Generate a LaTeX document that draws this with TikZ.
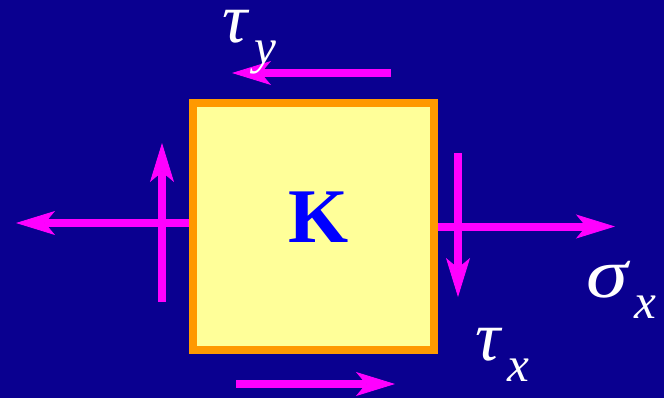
\documentclass[tikz,border=0pt]{standalone}
\usepackage{fontspec}
\setmainfont{Liberation Serif}
\usetikzlibrary{arrows.meta}

\definecolor{fondo}{RGB}{10,0,144}
\definecolor{fuerza}{RGB}{255,0,255}
\definecolor{borde}{RGB}{255,153,0}
\definecolor{relleno}{RGB}{255,255,153}
\definecolor{letra}{RGB}{0,0,255}

% Tension con subindice
\newcommand{\tension}[2]{{\fontsize{40}{40}\selectfont\itshape #1\kern0.1em\raisebox{-0.3em}{\fontsize{28}{28}\selectfont #2}}}

\begin{document}
\begin{tikzpicture}[>={Stealth[length=0.78cm, width=0.48cm, inset=0.2cm, line width=0.5pt]},
    fuerzas/.style={->, draw=fuerza, line width=0.16cm},
    etiqueta/.style={text=white, anchor=base west, inner sep=0pt}]
    % Fondo
    \fill[fondo] (0,0) rectangle (13.28,7.96);
    \useasboundingbox (0,0) rectangle (13.28,7.96);

    % Elemento K
    \node[draw=borde, fill=relleno, line width=0.16cm, minimum width=4.82cm,
          minimum height=4.94cm, inner sep=0pt] (elem) at (6.27,3.43) {};
    \node[text=letra, font=\fontsize{44}{44}\selectfont\bfseries] (K) at (6.38,3.61) {K};

    % Extremos libres de las flechas
    \coordinate (Sxm) at (0.32,3.50);   % sigma_x izquierda
    \coordinate (Sxp) at (12.30,3.43);  % sigma_x derecha
    \coordinate (Tyi) at (7.82,6.50);   % tau_y arriba (inicio)
    \coordinate (Tyf) at (4.64,6.50);   % tau_y arriba (fin)
    \coordinate (Tybi) at (4.72,0.28);  % tau_y abajo (inicio)
    \coordinate (Tybf) at (7.90,0.28);  % tau_y abajo (fin)
    \coordinate (Txi) at (3.24,1.92);   % tau_x izquierda (inicio)
    \coordinate (Txf) at (3.24,5.10);   % tau_x izquierda (fin)
    \coordinate (Txdi) at (9.16,4.90);  % tau_x derecha (inicio)
    \coordinate (Txdf) at (9.16,2.02);  % tau_x derecha (fin)

    % Flechas
    \draw[fuerzas] ([yshift=0.07cm]elem.west) -- (Sxm);
    \draw[fuerzas] (elem.east) -- (Sxp);
    \draw[fuerzas] (Tyi) -- (Tyf);
    \draw[fuerzas] (Tybi) -- (Tybf);
    \draw[fuerzas] (Txi) -- (Txf);
    \draw[fuerzas] (Txdi) -- (Txdf);

    % Etiquetas
    \node[etiqueta] (ty) at (4.44,7.12) {\tension{τ}{y}};
    \node[etiqueta] (sx) at (11.72,2.02) {\tension{\scalebox{1.2}[1]{σ}}{x}};
    \node[etiqueta] (tx) at (9.50,0.76) {\tension{τ}{x}};

\end{tikzpicture}
\end{document}
